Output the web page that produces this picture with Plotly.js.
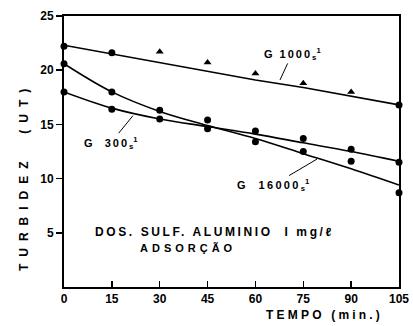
<!DOCTYPE html>
<html><head><meta charset="utf-8">
<script src="https://cdn.plot.ly/plotly-3.0.1.min.js"></script>
<style>html,body{margin:0;padding:0;background:#fff}#c{width:413px;height:326px}</style>
</head><body><div id="c"></div>
<script>
// Data
const tempo = [0, 15, 30, 45, 60, 75, 90, 105];
const g1000Obs = [22.2, 21.6, 21.7, 20.7, 19.7, 18.8, 18.0, 16.8];
const g1000Sym = ['circle','circle','triangle-up','triangle-up','triangle-up','triangle-up','triangle-up','circle'];
const g1000Fit = [22.3, 21.5, 20.7, 19.9, 19.1, 18.4, 17.6, 16.8];
const g300Obs = [18.0, 16.4, 15.5, 14.6, 14.4, 13.7, 12.7, 11.5];
const g300Fit = [18.0, 16.5, 15.5, 14.8, 14.1, 13.3, 12.5, 11.6];
const g16000Obs = [20.6, 18.0, 16.3, 15.4, 13.4, 12.5, 11.6, 8.7];
const g16000Fit = [20.6, 18.0, 16.2, 14.9, 13.7, 12.3, 10.9, 9.4];
const yTicks = [5, 10, 15, 20, 25];
const xTicks = [0, 15, 30, 45, 60, 75, 90, 105];

const F = 'Liberation Sans, Arial, sans-serif';
const mk = (y, sym) => ({x: tempo, y: y, mode: 'markers', type: 'scatter',
  marker: {color: '#000', size: 7, symbol: sym || 'circle'}, cliponaxis: false, hoverinfo: 'none'});
const ln = (y, shape) => ({x: tempo, y: y, mode: 'lines', type: 'scatter',
  line: {color: '#000', width: 1.6, shape: shape, smoothing: 1}, hoverinfo: 'none'});

const data = [
  ln(g1000Fit, 'linear'), mk(g1000Obs, g1000Sym),
  ln(g300Fit, 'spline'), mk(g300Obs),
  ln(g16000Fit, 'spline'), mk(g16000Obs)
];

const sp = (t, s) => '<span style="letter-spacing:' + s + 'px">' + t + '</span>';
const annFont = {family: F, size: 11, color: '#000', weight: 'bold'};
const bigFont = {family: F, size: 12, color: '#000', weight: 'bold'};
const tickFont = {family: F, size: 12, color: '#000', weight: 'bold'};
const layout = {
  width: 413, height: 326,
  margin: {l: 64, r: 14, t: 16, b: 39},
  paper_bgcolor: '#fff', plot_bgcolor: '#fff',
  showlegend: false,
  xaxis: {range: [0, 105], tickvals: xTicks, ticktext: xTicks.map(String),
    ticks: 'inside', ticklen: 6, tickwidth: 1.5, tickcolor: '#000',
    showline: true, linecolor: '#000', linewidth: 2, mirror: true,
    showgrid: false, zeroline: false, tickfont: tickFont, automargin: false},
  yaxis: {range: [0, 25], tickvals: yTicks, ticktext: yTicks.map(String),
    ticks: 'outside', ticklen: 6, tickwidth: 1.5, tickcolor: '#000',
    showline: true, linecolor: '#000', linewidth: 2, mirror: true,
    showgrid: false, zeroline: false, tickfont: tickFont, automargin: false},
  annotations: [
    {x: 67.7, y: 19.1, ax: 12, ay: -26, text: sp('G 1000', 2) + '<sub>s</sub><sup>1</sup>', showarrow: true,
     arrowhead: 0, arrowwidth: 1, arrowcolor: '#000', font: annFont},
    {x: 21.6, y: 15.8, ax: -22, ay: 27, text: sp('G  300', 2) + '<sub>s</sub><sup>1</sup>', showarrow: true,
     arrowhead: 0, arrowwidth: 1, arrowcolor: '#000', font: annFont},
    {x: 79.3, y: 11.8, ax: -44, ay: 26, text: sp('G  16000', 2.3) + '<sub>s</sub><sup>1</sup>', showarrow: true,
     arrowhead: 0, arrowwidth: 1, arrowcolor: '#000', font: annFont},
    {xref: 'paper', yref: 'paper', x: 0.087, y: 0.203, xanchor: 'left', yanchor: 'middle',
     text: sp('DOS. SULF. ALUMINIO  I mg/ℓ', 2.6), showarrow: false, font: bigFont},
    {xref: 'paper', yref: 'paper', x: 0.221, y: 0.144, xanchor: 'left', yanchor: 'middle',
     text: sp('ADSORÇÃO', 4), showarrow: false, font: annFont},
    {xref: 'paper', yref: 'paper', x: 0.779, y: -0.103, xanchor: 'center', yanchor: 'middle',
     text: sp('TEMPO (min.)', 3.2), showarrow: false, font: bigFont},
    {xref: 'paper', yref: 'paper', x: -0.119, y: 0.406, xanchor: 'center', yanchor: 'middle', textangle: -90,
     text: sp('TURBIDEZ  (UT)', 7), showarrow: false, font: bigFont}
  ]
};
Plotly.newPlot('c', data, layout, {staticPlot: true});
</script></body></html>
